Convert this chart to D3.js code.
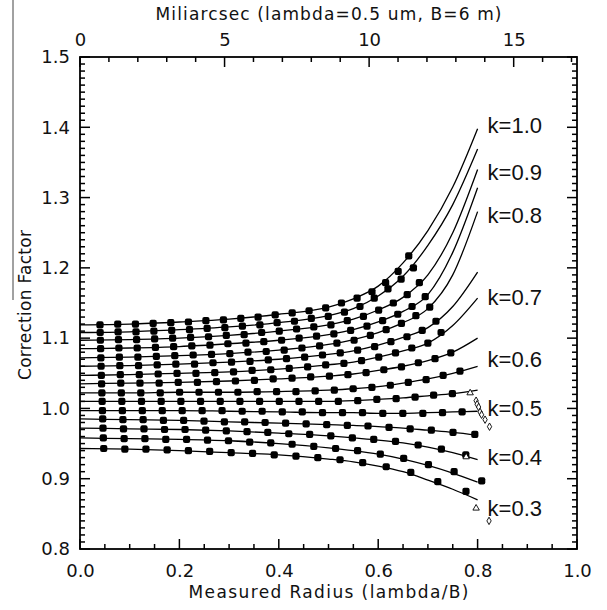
<!DOCTYPE html>
<html>
<head>
<meta charset="utf-8">
<script src="https://cdn.jsdelivr.net/npm/d3@7"></script>
<style>
  body { margin: 0; background: #fff; }
  svg text { font-family: "DejaVu Sans", sans-serif; fill: #111; }
  .klabel { font-family: "Liberation Sans", Arial, sans-serif; }
</style>
</head>
<body>
<svg id="chart" width="607" height="610"></svg>
<script>
const kValues = [1.0, 0.95, 0.9, 0.85, 0.8, 0.75, 0.7, 0.65, 0.6, 0.55, 0.5, 0.45, 0.4, 0.35, 0.3];

// fitted curves, correction factor at these measured radii
const fitX = [0, 0.1, 0.2, 0.3, 0.4, 0.5, 0.55, 0.6, 0.65, 0.7, 0.75, 0.8];
const fitFactor = [
    [1.119, 1.120, 1.123, 1.127, 1.134, 1.144, 1.156, 1.174, 1.207, 1.253, 1.315, 1.398],
    [1.108, 1.109, 1.112, 1.116, 1.122, 1.132, 1.142, 1.160, 1.188, 1.232, 1.290, 1.369],
    [1.097, 1.098, 1.100, 1.104, 1.110, 1.119, 1.127, 1.140, 1.158, 1.190, 1.250, 1.340],
    [1.085, 1.086, 1.088, 1.092, 1.097, 1.105, 1.112, 1.123, 1.138, 1.162, 1.222, 1.314],
    [1.072, 1.073, 1.075, 1.078, 1.083, 1.091, 1.098, 1.108, 1.122, 1.142, 1.190, 1.280],
    [1.060, 1.061, 1.063, 1.066, 1.070, 1.077, 1.082, 1.090, 1.101, 1.115, 1.145, 1.194],
    [1.047, 1.048, 1.050, 1.052, 1.056, 1.062, 1.066, 1.073, 1.082, 1.093, 1.118, 1.157],
    [1.035, 1.036, 1.037, 1.039, 1.042, 1.046, 1.049, 1.054, 1.060, 1.068, 1.080, 1.100],
    [1.022, 1.022, 1.023, 1.023, 1.024, 1.026, 1.028, 1.031, 1.036, 1.042, 1.050, 1.060],
    [1.010, 1.010, 1.010, 1.010, 1.010, 1.010, 1.011, 1.013, 1.015, 1.018, 1.021, 1.026],
    [0.997, 0.997, 0.997, 0.996, 0.995, 0.994, 0.994, 0.993, 0.993, 0.994, 0.995, 0.996],
    [0.985, 0.984, 0.983, 0.981, 0.979, 0.977, 0.976, 0.974, 0.972, 0.969, 0.966, 0.962],
    [0.972, 0.971, 0.970, 0.968, 0.965, 0.961, 0.958, 0.955, 0.951, 0.945, 0.937, 0.927],
    [0.958, 0.957, 0.956, 0.954, 0.950, 0.944, 0.940, 0.935, 0.928, 0.919, 0.908, 0.895],
    [0.943, 0.942, 0.940, 0.937, 0.934, 0.928, 0.924, 0.918, 0.910, 0.898, 0.885, 0.870]
];

// simulated points: true radius (lambda/B) and the factor found for it
const trueRadius = [0.045, 0.085, 0.125, 0.165, 0.205, 0.245, 0.285, 0.325, 0.365, 0.405,
                    0.445, 0.485, 0.525, 0.565, 0.605, 0.645, 0.685, 0.725, 0.765, 0.805];
const markerFactor = [
    [1.119, 1.120, 1.120, 1.121, 1.122, 1.123, 1.125, 1.126, 1.128, 1.130, 1.133, 1.136, 1.139, 1.143, 1.150, 1.157, 1.166, 1.179, 1.195, 1.217],
    [1.108, 1.109, 1.109, 1.110, 1.111, 1.112, 1.114, 1.115, 1.117, 1.119, 1.122, 1.124, 1.128, 1.131, 1.137, 1.145, 1.157, 1.170, 1.184, 1.200],
    [1.097, 1.098, 1.098, 1.099, 1.100, 1.101, 1.102, 1.104, 1.105, 1.108, 1.110, 1.113, 1.116, 1.119, 1.125, 1.131, 1.140, 1.150, 1.162, 1.179],
    [1.085, 1.086, 1.086, 1.087, 1.088, 1.089, 1.090, 1.092, 1.093, 1.095, 1.097, 1.100, 1.103, 1.106, 1.111, 1.117, 1.125, 1.134, 1.145, 1.159],
    [1.072, 1.073, 1.073, 1.074, 1.075, 1.076, 1.077, 1.078, 1.080, 1.081, 1.083, 1.086, 1.089, 1.093, 1.097, 1.104, 1.112, 1.121, 1.132, 1.144],
    [1.060, 1.061, 1.061, 1.062, 1.063, 1.063, 1.065, 1.066, 1.067, 1.069, 1.071, 1.073, 1.076, 1.079, 1.083, 1.088, 1.095, 1.102, 1.111, 1.124],
    [1.047, 1.048, 1.048, 1.049, 1.050, 1.050, 1.051, 1.052, 1.054, 1.055, 1.057, 1.059, 1.062, 1.064, 1.068, 1.073, 1.079, 1.086, 1.093, 1.108],
    [1.035, 1.036, 1.036, 1.036, 1.037, 1.037, 1.038, 1.039, 1.040, 1.042, 1.043, 1.045, 1.046, 1.048, 1.051, 1.055, 1.059, 1.065, 1.071, 1.079],
    [1.022, 1.022, 1.022, 1.022, 1.023, 1.023, 1.023, 1.023, 1.024, 1.024, 1.024, 1.025, 1.026, 1.028, 1.030, 1.033, 1.037, 1.041, 1.047, 1.053],
    [1.010, 1.010, 1.010, 1.010, 1.010, 1.010, 1.010, 1.010, 1.010, 1.010, 1.010, 1.010, 1.010, 1.011, 1.013, 1.014, 1.016, 1.019, 1.021],
    [0.997, 0.997, 0.997, 0.997, 0.997, 0.997, 0.997, 0.996, 0.996, 0.995, 0.995, 0.994, 0.994, 0.994, 0.993, 0.993, 0.993, 0.994, 0.995],
    [0.985, 0.984, 0.984, 0.983, 0.983, 0.982, 0.981, 0.981, 0.980, 0.979, 0.978, 0.977, 0.976, 0.975, 0.973, 0.971, 0.969, 0.966, 0.963],
    [0.972, 0.971, 0.971, 0.970, 0.970, 0.969, 0.968, 0.967, 0.966, 0.964, 0.963, 0.961, 0.958, 0.956, 0.953, 0.948, 0.942, 0.934],
    [0.958, 0.957, 0.957, 0.956, 0.956, 0.955, 0.954, 0.952, 0.951, 0.949, 0.946, 0.943, 0.940, 0.935, 0.929, 0.920, 0.910, 0.897],
    [0.943, 0.942, 0.942, 0.941, 0.940, 0.939, 0.937, 0.936, 0.934, 0.932, 0.930, 0.927, 0.923, 0.917, 0.909, 0.896, 0.882]
];

// odd points near the edge, open symbols
const triangleX = [0.785, 0.777, 0.797];
const triangleY = [1.022, 0.931, 0.858];
const diamondX = [0.797, 0.799, 0.802, 0.805, 0.808, 0.815, 0.824, 0.823];
const diamondY = [1.011, 1.006, 1.002, 0.995, 0.991, 0.984, 0.974, 0.840];

const labelText = ["k=1.0", "k=0.9", "k=0.8", "k=0.7", "k=0.6", "k=0.5", "k=0.4", "k=0.3"];
const labelFactor = [1.403, 1.336, 1.275, 1.158, 1.070, 1.000, 0.931, 0.858];

const xTicks = [0, 0.2, 0.4, 0.6, 0.8, 1.0];
const yTicks = [0.8, 0.9, 1.0, 1.1, 1.2, 1.3, 1.4, 1.5];
const masTicks = [0, 5, 10, 15];
const masPerUnit = 17.19;   // lambda/B in mas for 0.5 um and 6 m

const plotLeft = 80, plotRight = 577, plotTop = 57, plotBottom = 549;

const svg = d3.select("#chart");

const x = d3.scaleLinear().domain([0, 1]).range([plotLeft, plotRight]);
const y = d3.scaleLinear().domain([0.8, 1.5]).range([plotBottom, plotTop]);
const xTop = d3.scaleLinear().domain([0, masPerUnit]).range([plotLeft, plotRight]);

// scan mark on the left edge
svg.append("line")
    .attr("x1", 13).attr("x2", 13)
    .attr("y1", 0).attr("y2", 300)
    .attr("stroke", "#444")
    .attr("stroke-width", 1);

// axes carry the labels only, tick marks drawn below
const labelStyle = g => {
    g.select(".domain").remove();
    g.selectAll(".tick line").remove();
    g.selectAll(".tick text").style("font-size", "18px");
};

svg.append("g")
    .attr("transform", `translate(0,${plotBottom})`)
    .call(d3.axisBottom(x).tickValues(xTicks).tickFormat(d3.format(".1f"))
          .tickSize(0).tickPadding(15))
    .call(labelStyle);

svg.append("g")
    .attr("transform", `translate(0,${plotTop})`)
    .call(d3.axisTop(xTop).tickValues(masTicks).tickFormat(d3.format("d"))
          .tickSize(0).tickPadding(11))
    .call(labelStyle);

svg.append("g")
    .attr("transform", `translate(${plotLeft},0)`)
    .call(d3.axisLeft(y).tickValues(yTicks).tickFormat(d3.format(".1f"))
          .tickSize(0).tickPadding(10))
    .call(labelStyle);

// inward tick marks on all four sides
const minorX = d3.range(1, 20).filter(v => v % 4).map(v => v / 20);
const minorMas = d3.range(1, 18).filter(v => v % 5);
const minorY = d3.range(81, 150).filter(v => v % 10).map(v => v / 100);

const tickLayer = svg.append("g")
      .attr("stroke", "#000")
      .attr("stroke-width", 1.5);

const vTicks = (values, scale, y0, len) => tickLayer.append("g")
      .selectAll("line")
      .data(values)
      .join("line")
      .attr("x1", d => scale(d)).attr("x2", d => scale(d))
      .attr("y1", y0).attr("y2", y0 + len);

const hTicks = (values, x0, len) => tickLayer.append("g")
      .selectAll("line")
      .data(values)
      .join("line")
      .attr("y1", d => y(d)).attr("y2", d => y(d))
      .attr("x1", x0).attr("x2", x0 + len);

vTicks(xTicks, x, plotBottom, -10);
vTicks(minorX, x, plotBottom, -5);
vTicks(masTicks, xTop, plotTop, 10);
vTicks(minorMas, xTop, plotTop, 5);
hTicks(yTicks, plotLeft, 10);
hTicks(minorY, plotLeft, 5);
hTicks(yTicks, plotRight, -10);
hTicks(minorY, plotRight, -5);

svg.append("rect")
    .attr("x", plotLeft).attr("y", plotTop)
    .attr("width", plotRight - plotLeft).attr("height", plotBottom - plotTop)
    .attr("fill", "none")
    .attr("stroke", "#000")
    .attr("stroke-width", 1.8);

// fitted curves
const line = d3.line()
      .x((d, i) => x(fitX[i]))
      .y(d => y(d))
      .curve(d3.curveMonotoneX);

svg.append("g")
    .selectAll("path")
    .data(fitFactor)
    .join("path")
    .attr("d", line)
    .attr("fill", "none")
    .attr("stroke", "#000")
    .attr("stroke-width", 1.3);

// simulated points
const points = markerFactor.flatMap((row, s) =>
      row.map((c, i) => ({k: kValues[s], r: trueRadius[i], c: c})));

svg.append("g")
    .selectAll("rect")
    .data(points)
    .join("rect")
    .attr("x", d => x(d.r / d.c) - 3.6)
    .attr("y", d => y(d.c) - 3.6)
    .attr("width", 7.2)
    .attr("height", 7.2)
    .attr("rx", 2)
    .attr("fill", "#000");

svg.append("g")
    .selectAll("path")
    .data(triangleX)
    .join("path")
    .attr("d", d3.symbol().type(d3.symbolTriangle).size(18))
    .attr("transform", (d, i) => `translate(${x(d)},${y(triangleY[i])})`)
    .attr("fill", "#fff")
    .attr("stroke", "#000")
    .attr("stroke-width", 0.9);

svg.append("g")
    .selectAll("path")
    .data(diamondX)
    .join("path")
    .attr("d", d3.symbol().type(d3.symbolDiamond).size(16))
    .attr("transform", (d, i) => `translate(${x(d)},${y(diamondY[i])})`)
    .attr("fill", "#fff")
    .attr("stroke", "#000")
    .attr("stroke-width", 0.9);

// curve labels
svg.append("g")
    .selectAll("text")
    .data(labelText)
    .join("text")
    .attr("class", "klabel")
    .attr("x", x(0.8) + 10)
    .attr("y", (d, i) => y(labelFactor[i]))
    .attr("dy", "0.36em")
    .style("font-size", "22px")
    .text(d => d);

// axis titles
svg.append("text")
    .attr("x", (plotLeft + plotRight) / 2)
    .attr("y", 20)
    .attr("text-anchor", "middle")
    .attr("textLength", 346)
    .style("font-size", "17px")
    .text("Miliarcsec (lambda=0.5 um, B=6 m)");

svg.append("text")
    .attr("x", (plotLeft + plotRight) / 2)
    .attr("y", 598)
    .attr("text-anchor", "middle")
    .attr("textLength", 280)
    .style("font-size", "17px")
    .text("Measured Radius (lambda/B)");

svg.append("text")
    .attr("transform", "translate(31,305) rotate(-90)")
    .attr("text-anchor", "middle")
    .attr("textLength", 150)
    .style("font-size", "17px")
    .text("Correction Factor");
</script>
</body>
</html>
